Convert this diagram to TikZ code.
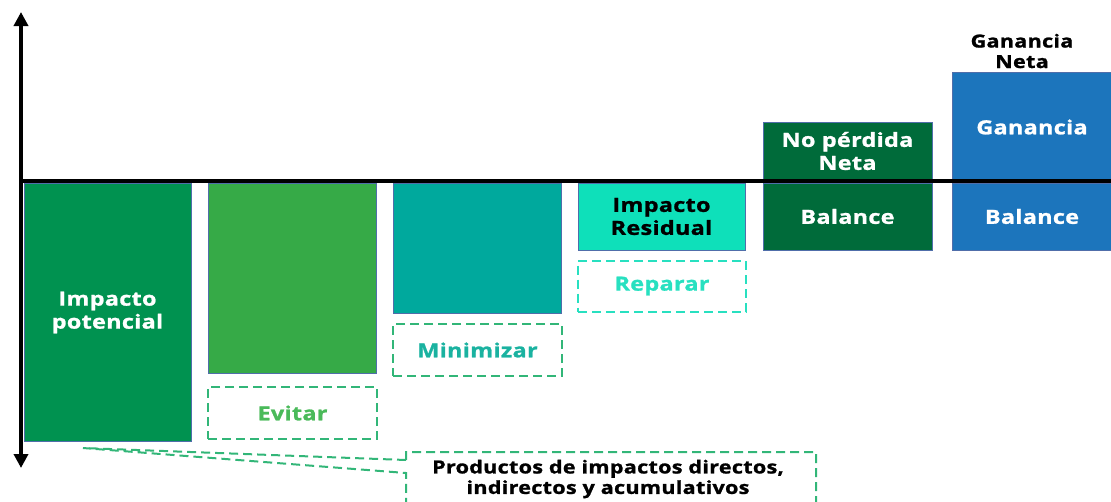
\documentclass[tikz,border=0pt]{standalone}
\usepackage{fontspec}
\setmainfont{Open Sans}[FakeStretch=1.2, LetterSpace=1.5, BoldFeatures={FakeBold=1.2}]
\usetikzlibrary{arrows.meta}
\definecolor{cpot}{RGB}{0,146,80}
\definecolor{cevi}{RGB}{54,170,71}
\definecolor{cmin}{RGB}{0,169,157}
\definecolor{cres}{RGB}{14,224,186}
\definecolor{cnop}{RGB}{0,107,58}
\definecolor{cgan}{RGB}{28,117,188}
\definecolor{cedge}{RGB}{80,110,170}
\definecolor{tevi}{RGB}{74,186,90}
\definecolor{tmin}{RGB}{26,178,160}
\definecolor{trep}{RGB}{40,224,192}
\definecolor{dgreen}{RGB}{50,182,120}
\begin{document}
\begin{tikzpicture}[x=1pt,y=-1pt,
  bar/.style={draw=cedge, line width=0.8pt, inner sep=0pt, text=white, align=center,
    font=\bfseries\fontsize{19.5}{23}\selectfont},
  dbox/.style={draw=dgreen, line width=2pt, dash pattern=on 9pt off 5pt, inner sep=0pt,
    align=center, font=\bfseries\fontsize{19.5}{23}\selectfont},
  axis/.style={line width=4pt, {Triangle[width=14pt,length=14pt]}-{Triangle[width=14pt,length=14pt]}},
  plain/.style={align=center, inner sep=0pt, font=\bfseries\fontsize{18}{20.5}\selectfont}
]
\useasboundingbox (0,0) rectangle (1111,501);
\clip (0,0) rectangle (1111,501);
% bars
\node[bar, fill=cpot, minimum width=167pt, minimum height=258pt] (pot) at (107.5,312.5) {Impacto\\potencial};
\node[bar, fill=cevi, minimum width=168pt, minimum height=190pt] (evi) at (292,278) {};
\node[bar, fill=cmin, minimum width=168pt, minimum height=130pt] (min) at (477,248) {};
\node[bar, fill=cres, minimum width=167pt, minimum height=67pt, text=black] (res) at (661.5,216.5) {Impacto\\Residual};
\node[bar, fill=cnop, minimum width=169pt, minimum height=58pt] (nop) at (847.5,151) {No pérdida\\Neta};
\node[bar, fill=cnop, minimum width=169pt, minimum height=67pt] (nopb) at (847.5,216.5) {Balance};
\node[bar, fill=cgan, minimum width=160pt, minimum height=110pt] (gan) at (1032,127) {Ganancia};
\node[bar, fill=cgan, minimum width=160pt, minimum height=67pt] (ganb) at (1032,216.5) {Balance};
\node[plain] (gn) at (1022,51) {Ganancia\\Neta};
% dashed boxes
\node[dbox, text=tevi, minimum width=169pt, minimum height=52pt] (devi) at (292.5,413) {Evitar};
\node[dbox, text=tmin, minimum width=169pt, minimum height=52pt] (dmin) at (477.5,350) {Minimizar};
\node[dbox, draw=trep, text=trep, minimum width=168pt, minimum height=51pt] (drep) at (662,286) {Reparar};
\node[plain] (prod) at (608,479) {Productos de impactos directos,\\indirectos y acumulativos};
\coordinate (tip) at (83,448);
\draw[dgreen, line width=2pt, dash pattern=on 9pt off 5pt, line join=miter]
  (406,460) -- (406,452) -- (816,452) -- (816,510)
  (406,460) -- (tip) -- (406,473) -- (406,510);
% axes
\coordinate (ytop) at (21,12);
\coordinate (ybot) at (21,468);
\coordinate (xl) at (21,181);
\coordinate (xr) at (1111,181);
\draw[line width=4pt] (xl) -- (xr);
\draw[axis] (ytop) -- (ybot);
\end{tikzpicture}
\end{document}
